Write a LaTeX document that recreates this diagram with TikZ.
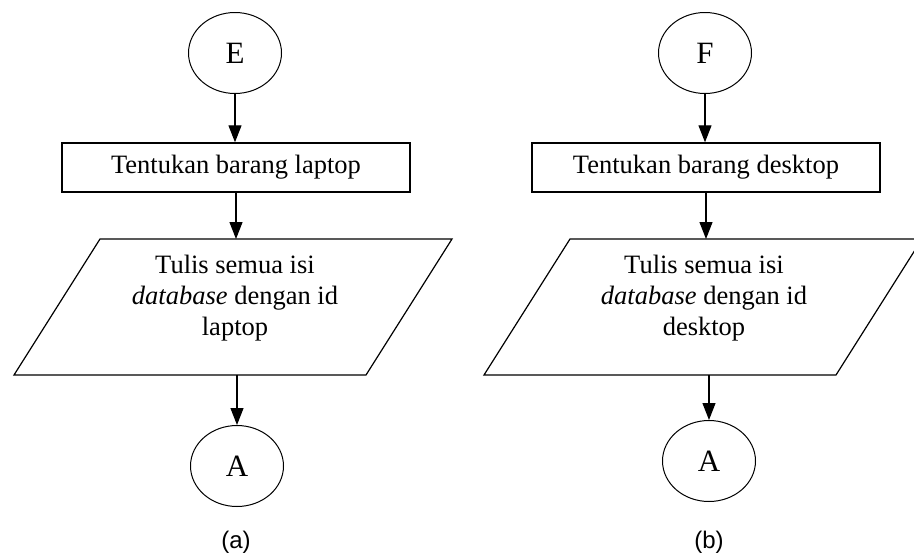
\documentclass[tikz,border=0pt]{standalone}
\usepackage{fontspec}
\setmainfont{Liberation Serif}
\newfontfamily\labelfont{Liberation Sans}
\usetikzlibrary{shapes.geometric,arrows.meta}
\begin{document}
\begin{tikzpicture}[x=1pt,y=-1pt,
  conn/.style={ellipse,draw,line width=1pt,minimum width=93pt,minimum height=81pt,inner sep=0pt,font=\fontsize{31}{36}\selectfont},
  procbox/.style={draw,line width=1.4pt,minimum width=348pt,minimum height=49pt,inner sep=0pt,font=\fontsize{26.5}{31}\selectfont},
  iotext/.style={align=center,font=\fontsize{26.5}{31}\selectfont,inner sep=0pt},
  io/.style={line width=1.2pt,line join=miter},
  arr/.style={-{Triangle[length=17pt,width=13pt]},line width=1.2pt},
  subcap/.style={font=\labelfont\fontsize{24}{28}\selectfont,inner sep=0pt}]
\useasboundingbox (0,0) rectangle (914,560);
% (a)
\node[conn] (E) at (235,53) {E};
\node[procbox] (t1) at (236,167.5) {Tentukan barang laptop};
\coordinate (p1tl) at (100,239);
\coordinate (p1tr) at (452,239);
\coordinate (p1br) at (366,375);
\coordinate (p1bl) at (14,375);
\draw[io] (p1tl) -- (p1tr) -- (p1br) -- (p1bl) -- cycle;
\coordinate (p1in) at (236,239);
\coordinate (p1out) at (237,375);
\node[iotext] (w1) at (235,298) {Tulis semua isi\\\textit{database} dengan id\\laptop};
\node[conn] (A1) at (237,466) {A};
\node[subcap] (la) at (236,542) {(a)};
\draw[arr] (E.south) -- (E.south |- t1.north);
\draw[arr] (t1.south) -- (p1in);
\draw[arr] (p1out) -- (A1.north);
% (b)
\node[conn] (F) at (705,53) {F};
\node[procbox] (t2) at (706,167.5) {Tentukan barang desktop};
\coordinate (p2tl) at (570,239);
\coordinate (p2tr) at (922,239);
\coordinate (p2br) at (836,375);
\coordinate (p2bl) at (484,375);
\draw[io] (p2tl) -- (p2tr) -- (p2br) -- (p2bl) -- cycle;
\coordinate (p2in) at (706,239);
\coordinate (p2out) at (709,375);
\node[iotext] (w2) at (704,298) {Tulis semua isi\\\textit{database} dengan id\\desktop};
\node[conn] (A2) at (709,461) {A};
\node[subcap] (lb) at (709,542) {(b)};
\draw[arr] (F.south) -- (F.south |- t2.north);
\draw[arr] (t2.south) -- (p2in);
\draw[arr] (p2out) -- (A2.north);
\end{tikzpicture}
\end{document}
